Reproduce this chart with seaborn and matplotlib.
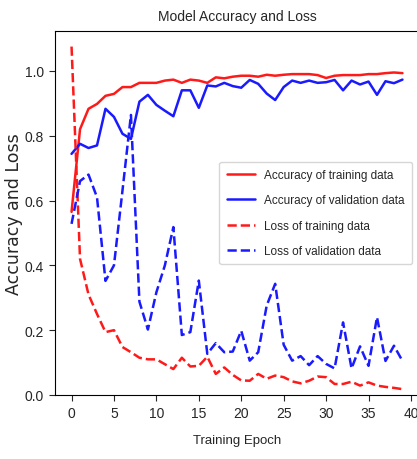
import matplotlib
matplotlib.use("Agg")
import matplotlib.pyplot as plt
import seaborn as sns
import numpy as np

epochs = list(range(40))
train_acc = [0.565, 0.82, 0.883, 0.898, 0.923, 0.929, 0.95, 0.95, 0.963, 0.963,
             0.963, 0.97, 0.973, 0.963, 0.973, 0.97, 0.963, 0.98, 0.977, 0.982,
             0.985, 0.985, 0.982, 0.988, 0.985, 0.988, 0.99, 0.99, 0.99, 0.987,
             0.978, 0.985, 0.987, 0.987, 0.987, 0.99, 0.99, 0.993, 0.995, 0.993]
val_acc = [0.744, 0.775, 0.762, 0.77, 0.883, 0.858, 0.806, 0.79, 0.905, 0.926,
           0.895, 0.877, 0.86, 0.94, 0.94, 0.886, 0.955, 0.952, 0.963, 0.953,
           0.948, 0.972, 0.96, 0.93, 0.91, 0.95, 0.97, 0.963, 0.97, 0.963,
           0.965, 0.972, 0.94, 0.97, 0.958, 0.967, 0.926, 0.968, 0.962, 0.973]
train_loss = [1.075, 0.42, 0.31, 0.25, 0.194, 0.2, 0.148, 0.132, 0.115, 0.11,
              0.11, 0.095, 0.08, 0.115, 0.088, 0.09, 0.118, 0.065, 0.085, 0.062,
              0.045, 0.044, 0.065, 0.05, 0.06, 0.055, 0.042, 0.036, 0.044, 0.057,
              0.055, 0.034, 0.034, 0.041, 0.029, 0.039, 0.029, 0.025, 0.022, 0.018]
val_loss = [0.528, 0.66, 0.68, 0.61, 0.352, 0.4, 0.63, 0.864, 0.288, 0.202,
            0.317, 0.4, 0.518, 0.185, 0.194, 0.353, 0.127, 0.16, 0.132, 0.134,
            0.198, 0.106, 0.132, 0.276, 0.343, 0.155, 0.106, 0.12, 0.092, 0.12,
            0.096, 0.082, 0.224, 0.082, 0.15, 0.09, 0.24, 0.105, 0.152, 0.105]

labels = ["Accuracy of training data", "Accuracy of validation data",
          "Loss of training data", "Loss of validation data"]
title = "Model Accuracy and Loss"
xlabel = "Training Epoch"
ylabel = "Accuracy and Loss"

sns.set_style("ticks")
narrow = ["Liberation Sans", "DejaVu Sans"]
plt.rcParams["font.family"] = ["DejaVu Sans"]

fig = plt.figure(figsize=(4.17, 4.6), dpi=100)
ax = fig.add_axes([55 / 417, 64 / 460, 364 / 417, 364 / 460])

series = [(train_acc, "#ff1a1a", "-"), (val_acc, "#1a1aff", "-"),
          (train_loss, "#ff1a1a", "--"), (val_loss, "#1a1aff", "--")]
for (vals, col, ls), lab in zip(series, labels):
    sns.lineplot(x=epochs, y=vals, color=col, linestyle=ls, linewidth=1.8,
                 label=lab, ax=ax)

ax.set_xlim(-1.95, 40.95)
ax.set_ylim(0, 1.123)
ax.set_xticks(range(0, 41, 5))
ax.set_yticks(np.arange(0, 1.01, 0.2))
ax.set_yticklabels([f"{v:.1f}" for v in np.arange(0, 1.01, 0.2)])
for t in ax.get_xticklabels() + ax.get_yticklabels():
    t.set_family(narrow)
    t.set_fontsize(10)
ax.tick_params(length=4, pad=4)
ax.set_title(title, family=narrow, fontsize=10, pad=8)
ax.set_xlabel(xlabel, family=narrow, fontsize=9.5, labelpad=10)
ax.set_ylabel(ylabel, fontsize=12.5)
ax.yaxis.set_label_coords(-0.088, 0.5)
leg = ax.legend(loc="center right", prop={"family": narrow, "size": 8.5},
                frameon=True, handlelength=2.4, labelspacing=1.15,
                borderpad=0.6, borderaxespad=0.6)
for s in ax.spines.values():
    s.set_color("black")
fig.savefig("out.png", dpi=100)
